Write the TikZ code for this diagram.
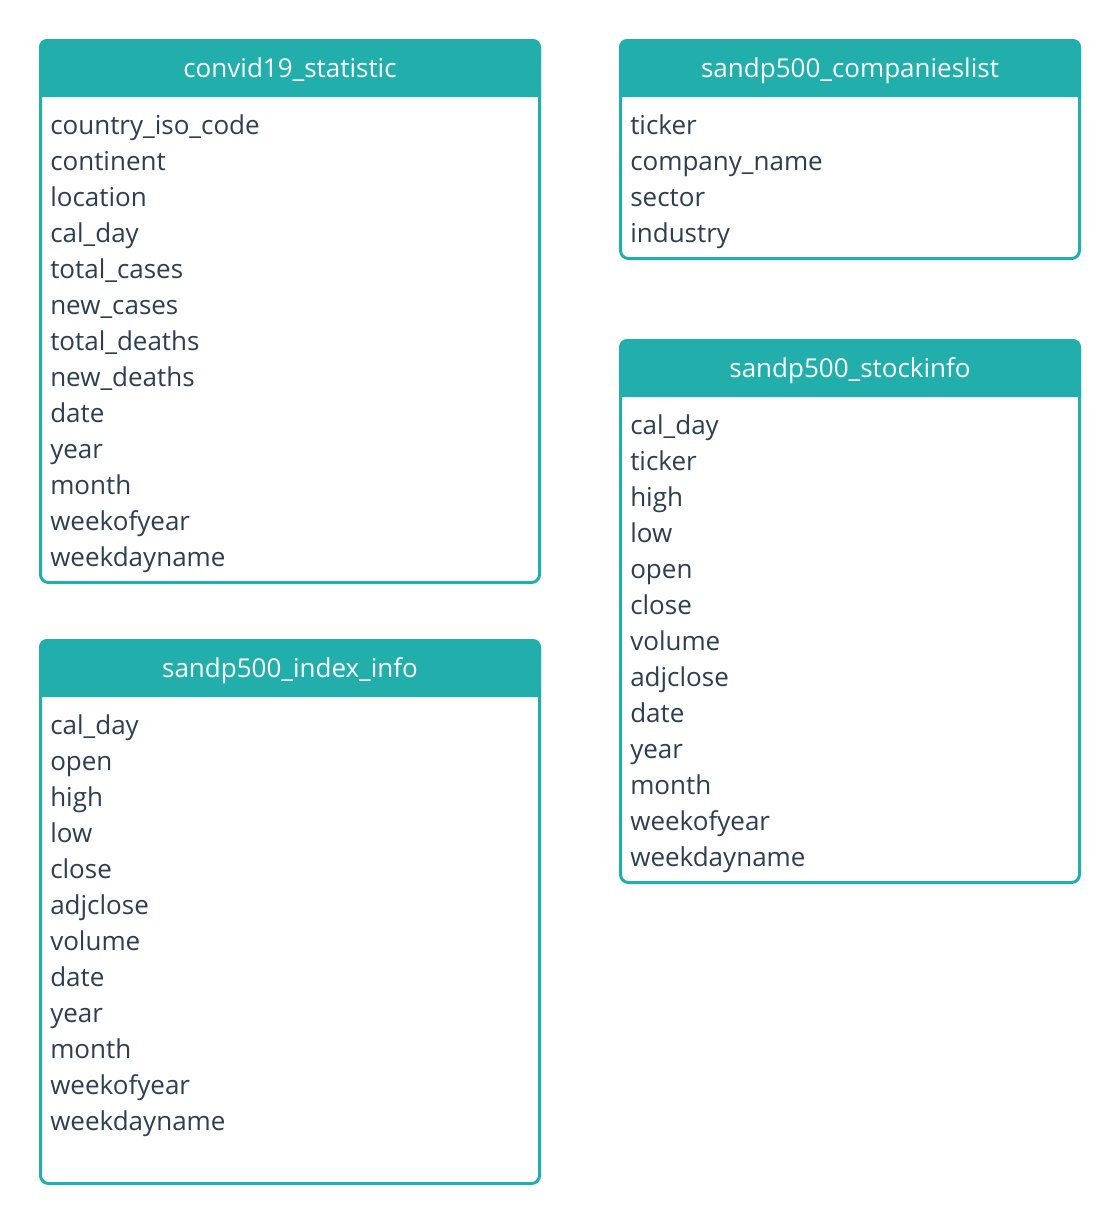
\documentclass[tikz,border=0pt]{standalone}
\usepackage{fontspec}
\setmainfont{Open Sans}
\usetikzlibrary{positioning}
\definecolor{tblteal}{HTML}{22AFAB}
\definecolor{ink}{HTML}{2C3E50}

\tikzset{
  tbl/.style={draw=tblteal, line width=2.25pt, rounded corners=6pt},
  hdr/.style={fill=tblteal},
  title/.style={text=white, font=\fontsize{19.5pt}{22pt}\selectfont, anchor=base, inner sep=0pt},
  field/.style={text=ink, font=\fontsize{19.5pt}{22pt}\selectfont, anchor=base west, inner sep=0pt}
}

\begin{document}
\begin{tikzpicture}[x=0.75pt, y=-0.75pt]
   \useasboundingbox (0,0) rectangle (1120,1224);

   % convid19_statistic
   \fill[hdr] (39,97) [rounded corners=6pt] -- (39,39) -- (541,39) [sharp corners] -- (541,97) -- cycle;
   \draw[tbl] (40.5,40.5) rectangle (539.5,582.5);
   \node[title] (t1) at (290,77) {convid19\_statistic};
   \foreach \f [count=\i] in {country\_iso\_code, continent, location, cal\_day, total\_cases, new\_cases, total\_deaths, new\_deaths, date, year, month, weekofyear, weekdayname}
     \node[field] (f1-\i) at (50,98+36*\i) {\f};

   % sandp500_companieslist
   \fill[hdr] (619,97) [rounded corners=6pt] -- (619,39) -- (1081,39) [sharp corners] -- (1081,97) -- cycle;
   \draw[tbl] (620.5,40.5) rectangle (1079.5,258.5);
   \node[title] (t2) at (850,77) {sandp500\_companieslist};
   \foreach \f [count=\i] in {ticker, company\_name, sector, industry}
     \node[field] (f2-\i) at (630,98+36*\i) {\f};

   % sandp500_stockinfo
   \fill[hdr] (619,397) [rounded corners=6pt] -- (619,339) -- (1081,339) [sharp corners] -- (1081,397) -- cycle;
   \draw[tbl] (620.5,340.5) rectangle (1079.5,882.5);
   \node[title] (t3) at (850,377) {sandp500\_stockinfo};
   \foreach \f [count=\i] in {cal\_day, ticker, high, low, open, close, volume, adjclose, date, year, month, weekofyear, weekdayname}
     \node[field] (f3-\i) at (630,398+36*\i) {\f};

   % sandp500_index_info
   \fill[hdr] (39,697) [rounded corners=6pt] -- (39,639) -- (541,639) [sharp corners] -- (541,697) -- cycle;
   \draw[tbl] (40.5,640.5) rectangle (539.5,1183.5);
   \node[title] (t4) at (290,677) {sandp500\_index\_info};
   \foreach \f [count=\i] in {cal\_day, open, high, low, close, adjclose, volume, date, year, month, weekofyear, weekdayname}
     \node[field] (f4-\i) at (50,698+36*\i) {\f};
\end{tikzpicture}
\end{document}
